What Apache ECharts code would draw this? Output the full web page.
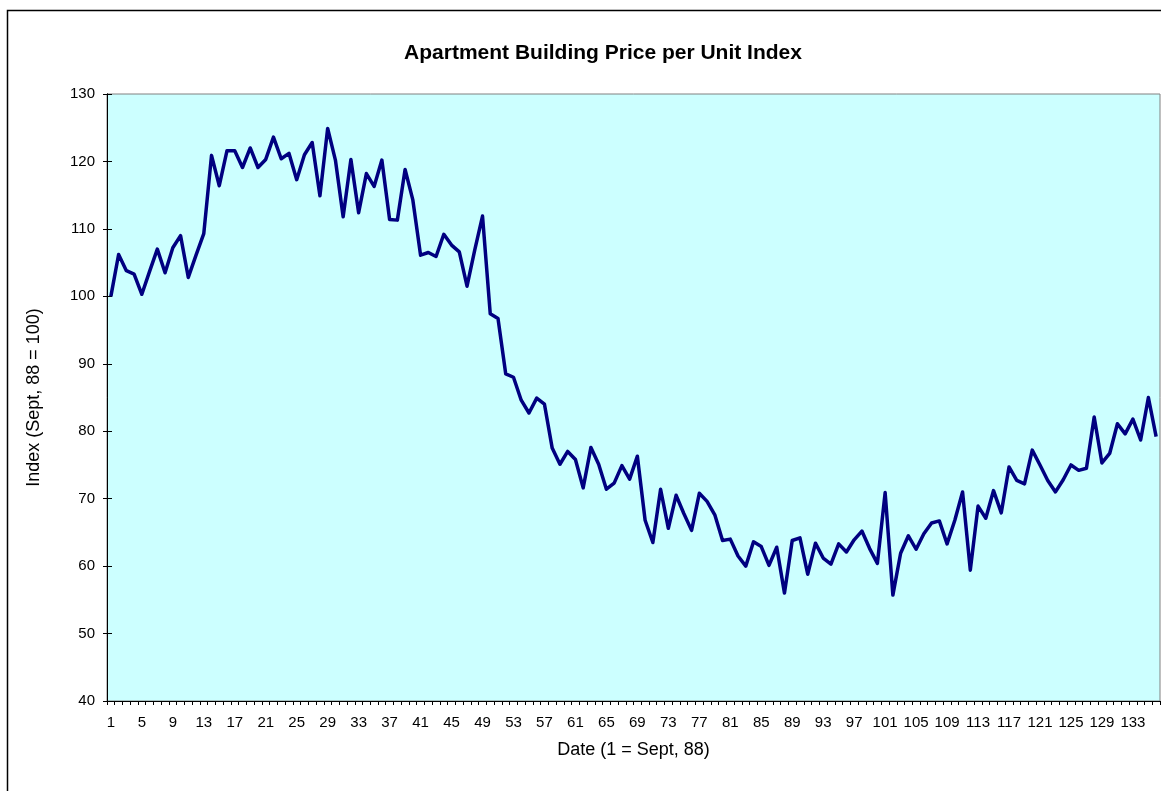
<!DOCTYPE html>
<html>
<head>
<meta charset="utf-8">
<script src="https://cdn.jsdelivr.net/npm/echarts@6/dist/echarts.min.js"></script>
<style>
html,body{margin:0;padding:0;background:#fff;}
#chart{width:1161px;height:791px;}
</style>
</head>
<body>
<div id="chart"></div>
<script>
const chartTitle = 'Apartment Building Price per Unit Index';
const xAxisTitle = 'Date (1 = Sept, 88)';
const yAxisTitle = 'Index (Sept, 88 = 100)';
const yTicks = [40, 50, 60, 70, 80, 90, 100, 110, 120, 130];

const indexValues = [
  100.0, 106.2, 103.8, 103.3, 100.3, 103.7, 107.0, 103.5, 107.2, 109.0,
  102.8, 106.1, 109.3, 120.9, 116.4, 121.6, 121.6, 119.1, 122.0, 119.1,
  120.3, 123.6, 120.4, 121.2, 117.3, 121.0, 122.8, 114.9, 124.9, 120.2,
  111.8, 120.3, 112.4, 118.2, 116.3, 120.2, 111.4, 111.3, 118.8, 114.3,
  106.1, 106.5, 105.9, 109.2, 107.6, 106.6, 101.5, 106.9, 111.9, 97.4,
  96.7, 88.5, 88.0, 84.6, 82.7, 84.9, 84.0, 77.5, 75.1, 77.0,
  75.8, 71.6, 77.6, 75.1, 71.4, 72.3, 74.9, 72.9, 76.3, 66.8,
  63.5, 71.4, 65.6, 70.5, 67.8, 65.3, 70.8, 69.6, 67.6, 63.8,
  64.0, 61.5, 60.0, 63.6, 62.9, 60.1, 62.8, 56.0, 63.8, 64.2,
  58.8, 63.4, 61.2, 60.3, 63.3, 62.1, 63.9, 65.2, 62.6, 60.4,
  70.9, 55.7, 61.9, 64.5, 62.5, 64.8, 66.4, 66.7, 63.3, 66.8,
  71.0, 59.4, 68.9, 67.1, 71.2, 67.9, 74.7, 72.7, 72.2, 77.2,
  75.0, 72.7, 71.0, 72.8, 75.0, 74.2, 74.5, 82.1, 75.3, 76.7,
  81.1, 79.6, 81.8, 78.7, 85.0, 79.2
];
const categories = indexValues.map((v, i) => String(i + 1));

const font = 'Liberation Sans, Arial, sans-serif';
const chart = echarts.init(document.getElementById('chart'), null, {renderer: 'canvas'});

const yBase = {
  type: 'value',
  min: yTicks[0],
  max: yTicks[yTicks.length - 1],
  interval: 10,
  splitLine: {show: false},
  axisLine: {show: true, lineStyle: {color: '#000', width: 1}}
};

chart.setOption({
  animation: false,
  backgroundColor: '#fff',
  graphic: [
    {type: 'rect', left: 5, top: 8, z: -1, silent: true,
     shape: {width: 1200, height: 800},
     style: {fill: 'none', stroke: '#000', lineWidth: 1.5}},
    {type: 'text', x: 603, y: 53, z: 10,
     style: {text: chartTitle, fill: '#000', font: 'bold 21px ' + font,
             align: 'center', verticalAlign: 'middle'}}
  ],
  grid: {
    left: 107, top: 94, right: 1, bottom: 90,
    show: true, backgroundColor: '#CCFFFF', borderColor: '#808080', borderWidth: 1
  },
  xAxis: {
    type: 'category',
    data: categories,
    boundaryGap: true,
    name: xAxisTitle,
    nameLocation: 'middle',
    nameGap: 40,
    nameTextStyle: {fontFamily: font, fontSize: 18, color: '#000'},
    axisLine: {show: true, lineStyle: {color: '#000', width: 1}},
    axisTick: {show: true, interval: 0, length: 4, inside: false, lineStyle: {color: '#000'}},
    axisLabel: {interval: 3, margin: 14, fontFamily: font, fontSize: 15, color: '#000'},
    splitLine: {show: false}
  },
  yAxis: [
    Object.assign({}, yBase, {
      name: yAxisTitle,
      nameLocation: 'middle',
      nameGap: 64,
      nameTextStyle: {fontFamily: font, fontSize: 18, color: '#000'},
      axisTick: {show: true, length: 4, inside: false, lineStyle: {color: '#000'}},
      axisLabel: {margin: 12, fontFamily: font, fontSize: 15, color: '#000'}
    }),
    Object.assign({}, yBase, {
      position: 'left',
      axisTick: {show: true, length: 5, inside: true, lineStyle: {color: '#000'}},
      axisLabel: {show: false}
    })
  ],
  series: [{
    type: 'line',
    data: indexValues,
    yAxisIndex: 0,
    symbol: 'none',
    lineStyle: {color: '#000080', width: 3.5, join: 'round'},
    itemStyle: {color: '#000080'}
  }]
});
</script>
</body>
</html>
